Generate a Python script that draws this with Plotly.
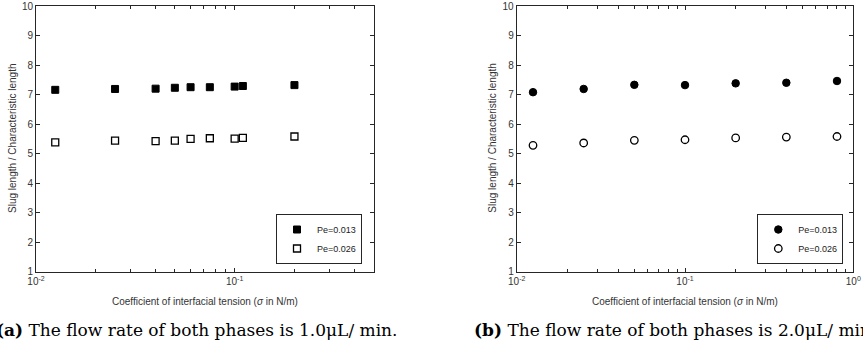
import plotly.graph_objects as go

# Panel (a): flow rate 1.0 uL/min
sigma_a = [0.0125, 0.025, 0.04, 0.05, 0.06, 0.075, 0.1, 0.11, 0.2]
pe013_a = [7.16, 7.19, 7.20, 7.23, 7.25, 7.25, 7.27, 7.29, 7.32]
pe026_a = [5.38, 5.44, 5.42, 5.44, 5.50, 5.52, 5.51, 5.53, 5.58]

# Panel (b): flow rate 2.0 uL/min
sigma_b = [0.0125, 0.025, 0.05, 0.1, 0.2, 0.4, 0.8]
pe013_b = [7.08, 7.19, 7.33, 7.32, 7.38, 7.40, 7.46]
pe026_b = [5.28, 5.36, 5.45, 5.47, 5.53, 5.56, 5.58]

series_names = ["Pe=0.013", "Pe=0.026"]
y_ticks = [1, 2, 3, 4, 5, 6, 7, 8, 9, 10]
x_major = [0.01, 0.1, 1]
x_major_text = ["10<sup>-2</sup>", "10<sup>-1</sup>", "10<sup>0</sup>"]
x_minor = [m * d for d in (0.01, 0.1) for m in range(2, 10)]
x_title = "Coefficient of interfacial tension (<i>σ</i> in N/m)"
y_title = "Slug length / Characteristic length"
captions = ["<b>(a)</b> The flow rate of both phases is 1.0μL/ min.",
            "<b>(b)</b> The flow rate of both phases is 2.0μL/ min."]

W, H = 863, 344
AX = "#262626"
TICKFONT = dict(family="Liberation Sans, Arial", size=10, color="#333333")

fig = go.Figure()

# panel a
fig.add_trace(go.Scatter(x=sigma_a, y=pe013_a, mode="markers", name=series_names[0],
                         marker=dict(symbol="square", size=7, color="black",
                                     line=dict(color="black", width=1)),
                         xaxis="x", yaxis="y", legend="legend"))
fig.add_trace(go.Scatter(x=sigma_a, y=pe026_a, mode="markers", name=series_names[1],
                         marker=dict(symbol="square-open", size=7, color="black",
                                     line=dict(color="black", width=1.3)),
                         xaxis="x", yaxis="y", legend="legend"))
# panel b
fig.add_trace(go.Scatter(x=sigma_b, y=pe013_b, mode="markers", name=series_names[0],
                         marker=dict(symbol="circle", size=7.5, color="black",
                                     line=dict(color="black", width=1)),
                         xaxis="x2", yaxis="y2", legend="legend2"))
fig.add_trace(go.Scatter(x=sigma_b, y=pe026_b, mode="markers", name=series_names[1],
                         marker=dict(symbol="circle-open", size=7.5, color="black",
                                     line=dict(color="black", width=1.3)),
                         xaxis="x2", yaxis="y2", legend="legend2"))

ydom = [1 - 271.7 / H, 1 - 6 / H]
xdom_a = [36 / W, 373.5 / W]
xdom_b = [516.7 / W, 853.3 / W]


def xaxis(domain, rng, anchor):
    return dict(domain=domain, type="log", range=rng, anchor=anchor, automargin=False,
                tickmode="array", tickvals=x_major, ticktext=x_major_text,
                ticks="inside", ticklen=4, tickwidth=1, tickcolor=AX,
                showline=True, linecolor=AX, linewidth=1, mirror="ticks",
                showgrid=False, zeroline=False, tickfont=TICKFONT,
                minor=dict(tickmode="array", tickvals=x_minor, ticks="inside",
                           ticklen=2.5, tickcolor=AX, showgrid=False))


def yaxis(anchor):
    return dict(domain=ydom, range=[1, 10], anchor=anchor, automargin=False,
                tickmode="array", tickvals=y_ticks,
                ticks="inside", ticklen=4, tickwidth=1, tickcolor=AX,
                showline=True, linecolor=AX, linewidth=1, mirror="ticks",
                showgrid=False, zeroline=False, tickfont=TICKFONT)


legend_style = dict(bgcolor="white", bordercolor=AX, borderwidth=1,
                    font=dict(family="Liberation Sans, Arial", size=9, color="#222222"),
                    xanchor="right", yanchor="bottom", yref="paper", xref="paper",
                    itemwidth=30, tracegroupgap=0)

fig.update_layout(
    width=W, height=H,
    margin=dict(l=0, r=0, t=0, b=0),
    paper_bgcolor="white", plot_bgcolor="white",
    showlegend=True,
    xaxis=xaxis(xdom_a, [-2, 0.69897 - 1], "y"),
    yaxis=yaxis("x"),
    xaxis2=xaxis(xdom_b, [-2, 0], "y2"),
    yaxis2=yaxis("x2"),
    legend=dict(legend_style, x=362 / W, y=1 - 264 / H),
    legend2=dict(legend_style, x=843.3 / W, y=1 - 264 / H),
)

annots = []
for i, (xd, cap_x) in enumerate([(xdom_a, 196), (xdom_b, 675)]):
    cx = (xd[0] + xd[1]) / 2
    annots.append(dict(text=x_title, x=cx, y=1 - 301.7 / H, xref="paper", yref="paper",
                       showarrow=False, xanchor="center", yanchor="middle",
                       font=dict(family="Liberation Sans, Arial", size=10, color="#333333")))
    annots.append(dict(text=y_title, x=(12 if i == 0 else 491.7) / W, y=1 - 138 / H,
                       xref="paper", yref="paper", showarrow=False, textangle=-90,
                       xanchor="center", yanchor="middle",
                       font=dict(family="Liberation Sans, Arial", size=10, color="#333333")))
    annots.append(dict(text=captions[i], x=cap_x / W, y=1 - 330 / H, xref="paper", yref="paper",
                       showarrow=False, xanchor="center", yanchor="middle",
                       font=dict(family="DejaVu Serif", size=17, color="black")))
fig.update_layout(annotations=annots)

fig.write_html("out.html")
